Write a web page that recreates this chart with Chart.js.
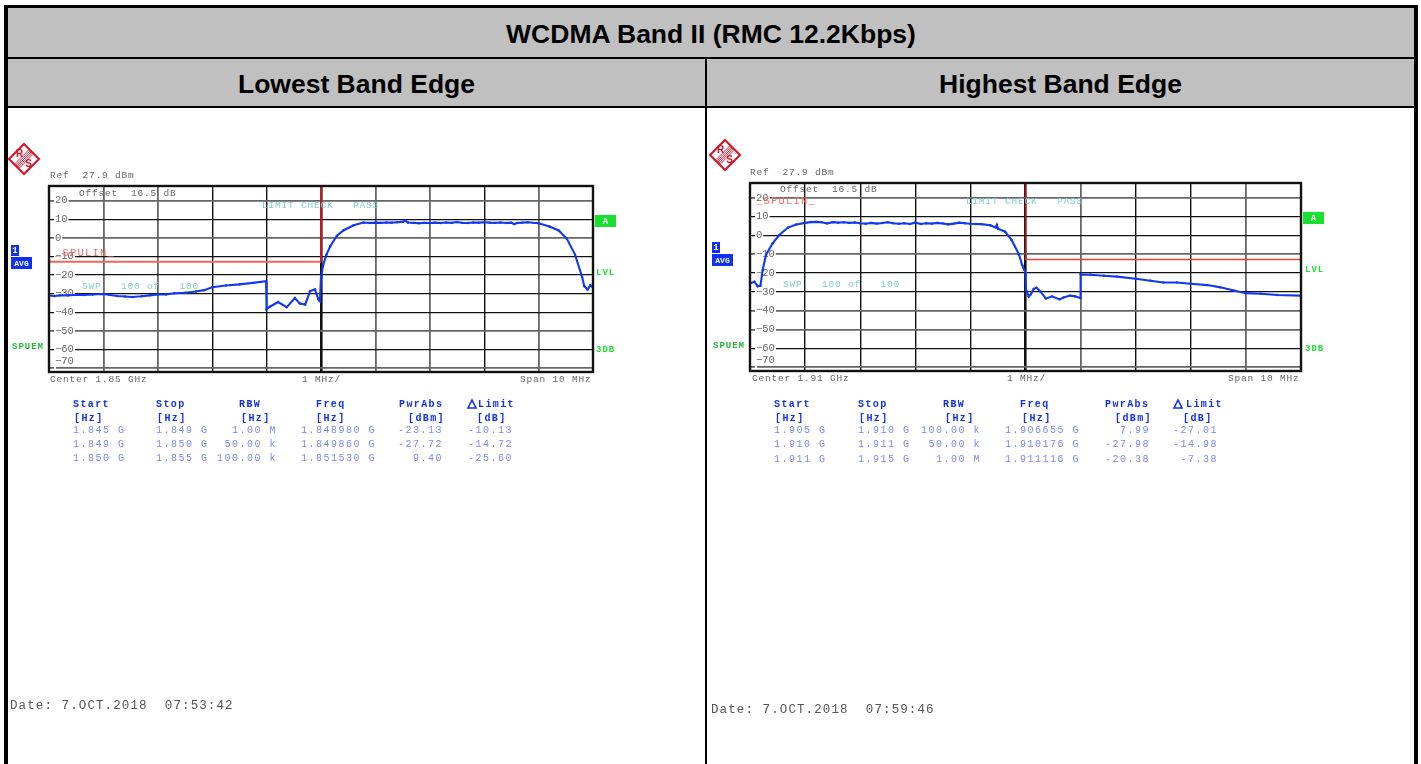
<!DOCTYPE html>
<html>
<head>
<meta charset="utf-8">
<title>WCDMA Band II (RMC 12.2Kbps)</title>
<script src="https://cdn.jsdelivr.net/npm/chart.js@4"></script>
<style>
  html, body { margin: 0; padding: 0; background: #fff; overflow: hidden; }
  body { width: 1421px; height: 764px; position: relative; font-family: "Liberation Sans", Arial, sans-serif; }
  .bar { position: absolute; background: #000; }
  .head { position: absolute; background: #c0c0c0; color: #000; font-weight: bold; text-align: center; font-size: 26.5px; }
  canvas { position: absolute; top: 108px; }
</style>
</head>
<body>
<div class="head" style="left:8px;top:8px;width:1406px;height:49px;line-height:52px">WCDMA Band II (RMC 12.2Kbps)</div>
<div class="head" style="left:8px;top:59px;width:697px;height:47px;line-height:50px">Lowest Band Edge</div>
<div class="head" style="left:707px;top:59px;width:707px;height:47px;line-height:50px">Highest Band Edge</div>
<div class="bar" style="left:4px;top:5px;width:1414px;height:3px"></div>
<div class="bar" style="left:4px;top:5px;width:4px;height:759px"></div>
<div class="bar" style="left:1414px;top:5px;width:4px;height:759px"></div>
<div class="bar" style="left:8px;top:57px;width:1406px;height:2px"></div>
<div class="bar" style="left:8px;top:106px;width:1406px;height:2px"></div>
<div class="bar" style="left:705px;top:59px;width:2px;height:705px"></div>
<canvas id="chartLow" style="left:8px" width="697" height="656"></canvas>
<canvas id="chartHigh" style="left:707px" width="707" height="656"></canvas>

<script>
const yTicks = [-70, -60, -50, -40, -30, -20, -10, 0, 10, 20];

const lowTicksX = [1845, 1846, 1847, 1848, 1849, 1850, 1851, 1852, 1853, 1854, 1855];
const highTicksX = [1905, 1906, 1907, 1908, 1909, 1910, 1911, 1912, 1913, 1914, 1915];

const lowFreq = [
  1845, 1845.1, 1845.2, 1845.35, 1845.5, 1845.65, 1845.8, 1846, 1846.1, 1846.25, 1846.4, 1846.53, 1846.7, 1846.85, 1847, 1847.15,
  1847.3, 1847.5, 1847.7, 1847.85, 1848, 1848.25, 1848.5, 1848.75, 1848.99, 1849, 1849.06, 1849.21, 1849.37, 1849.52, 1849.61, 1849.71,
  1849.8, 1849.89, 1849.95, 1849.98, 1850, 1850.01, 1850.04, 1850.1, 1850.17, 1850.29, 1850.41, 1850.6, 1850.78, 1850.9,
  1851, 1851.1, 1851.2, 1851.3, 1851.4, 1851.5, 1851.55, 1851.6, 1851.7, 1851.8, 1851.9,
  1852, 1852.1, 1852.2, 1852.3, 1852.4, 1852.5, 1852.6, 1852.7, 1852.8, 1852.9,
  1853, 1853.1, 1853.2, 1853.3, 1853.4, 1853.5, 1853.55, 1853.6, 1853.7, 1853.8, 1853.9,
  1854, 1854.2, 1854.37, 1854.52, 1854.67, 1854.8, 1854.84, 1854.9, 1854.95, 1855
];
const lowLevel = [
  -31, -31.2, -30.9, -30.9, -30.6, -30.7, -30.4, -30.2, -30.6, -31.2, -31.5, -31.8, -31.4, -30.9, -30.4, -30.4,
  -29.8, -29.5, -28.8, -28.1, -26.5, -25.6, -25, -24.2, -23.3, -38.3, -37, -34.5, -37.2, -32.3, -35.3, -35.8,
  -28.6, -27.7, -33, -34, -21, -20, -14.5, -9, -4.5, 1, 4, 6.8, 8.3, 8,
  8.2, 8.1, 8.3, 8.2, 8.4, 8.6, 9.2, 8.3, 8.1, 7.9, 8.1,
  8, 8.2, 8, 8.3, 8.1, 8.5, 8.1, 8, 8.3, 8.2,
  8.4, 8.2, 8.1, 8.3, 8, 8.2, 7.4, 8, 8.2, 8.4, 8.1,
  7.9, 6.1, 4, -0.5, -9, -21, -26, -27.8, -25.5, -26.5
];

const highFreq = [
  1905, 1905.08, 1905.14, 1905.19, 1905.23, 1905.29, 1905.41, 1905.53, 1905.69, 1905.84,
  1906, 1906.1, 1906.2, 1906.3, 1906.4, 1906.5, 1906.6, 1906.7, 1906.8, 1906.9,
  1907, 1907.1, 1907.2, 1907.3, 1907.4, 1907.5, 1907.6, 1907.7, 1907.8, 1907.9,
  1908, 1908.1, 1908.2, 1908.3, 1908.4, 1908.5, 1908.6, 1908.7, 1908.8, 1908.9,
  1909, 1909.1, 1909.2, 1909.36, 1909.46, 1909.48, 1909.5, 1909.63, 1909.75, 1909.88, 1909.94, 1910, 1910.01,
  1910.06, 1910.1, 1910.15, 1910.2, 1910.27, 1910.37, 1910.48, 1910.62, 1910.69, 1910.81, 1910.9, 1910.99, 1911,
  1911.18, 1911.42, 1911.66, 1912, 1912.27, 1912.5, 1912.75, 1913, 1913.3, 1913.54, 1913.78, 1914, 1914.27, 1914.57, 1915
];
const highLevel = [
  -25.5, -24.6, -27, -26.7, -18.4, -10.4, -4.2, 0.2, 4.2, 5.8,
  6.7, 7.1, 7.2, 7, 6.4, 7.1, 6.8, 7, 6.7, 6.9,
  6.5, 6.2, 6.7, 6.3, 6.6, 7, 6.5, 6.2, 6.5, 6.1,
  6.8, 6.1, 6.5, 6.3, 6.7, 6.4, 5.9, 6.3, 6.8, 6.5,
  6.2, 6.1, 6, 5.4, 4.2, 5.6, 3.6, 2, -2.5, -10, -15.8, -20, -29,
  -32.5, -31.2, -28.4, -27.8, -29.8, -33.6, -32.4, -34, -33, -32, -32.4, -33.3, -20.7,
  -20.9, -21.4, -21.9, -23, -24.1, -25, -25, -25.7, -26.4, -27.6, -29.3, -30.7, -31, -31.7, -32
];

const lowLimitFreq = [1845, 1850, 1850];
const lowLimitLevel = [-12.8, -12.8, 27.9];
const highLimitFreq = [1910, 1910, 1915];
const highLimitLevel = [27.9, -12.8, -12.8];

const tableHeads = ["Start", "Stop", "RBW", "Freq", "PwrAbs", "Limit"];
const tableUnits = ["[Hz]", "[Hz]", "[Hz]", "[Hz]", "[dBm]", "[dB]"];
const lowRows = [
  ["1.845 G", "1.849 G", "1.00 M", "1.848980 G", "-23.13", "-10.13"],
  ["1.849 G", "1.850 G", "50.00 k", "1.849860 G", "-27.72", "-14.72"],
  ["1.850 G", "1.855 G", "100.00 k", "1.851530 G", "9.40", "-25.60"]
];
const highRows = [
  ["1.905 G", "1.910 G", "100.00 k", "1.906655 G", "7.99", "-27.01"],
  ["1.910 G", "1.911 G", "50.00 k", "1.910176 G", "-27.98", "-14.98"],
  ["1.911 G", "1.915 G", "1.00 M", "1.911116 G", "-20.38", "-7.38"]
];

const MONO = '"Liberation Mono", monospace';
const TEXT_GREY = "#666";
const TEAL = "#7fcfc8";
const GREEN = "#18e02e";
const BLUE = "#1030f0";

function drawText(ctx, text, x, y, color, size, spacing, align, bold) {
  ctx.font = (bold ? "bold " : "") + size + "px " + MONO;
  ctx.letterSpacing = spacing + "px";
  ctx.fillStyle = color;
  ctx.textAlign = align || "left";
  ctx.textBaseline = "middle";
  ctx.fillText(text, x, y);
  ctx.letterSpacing = "0px";
}

function drawLogo(ctx, cx, cy) {
  const r = 15;
  ctx.save();
  ctx.translate(cx, cy);
  ctx.strokeStyle = "#d8102a";
  ctx.lineWidth = 2;
  ctx.beginPath();
  ctx.moveTo(0, -r); ctx.lineTo(r, 0); ctx.lineTo(0, r); ctx.lineTo(-r, 0); ctx.closePath();
  ctx.stroke();
  ctx.lineWidth = 0.9;
  for (let i = -2; i <= 2; i++) {
    ctx.beginPath();
    ctx.moveTo(-7 + i * 1.1, 7 + i * 1.1);
    ctx.lineTo(7 + i * 1.1, -7 + i * 1.1);
    ctx.stroke();
  }
  ctx.font = "bold 10px \"Liberation Sans\"";
  ctx.fillStyle = "#d8102a";
  ctx.textAlign = "center";
  ctx.textBaseline = "middle";
  ctx.fillText("R", -4.5, -5);
  ctx.fillText("S", 4.5, 5.5);
  ctx.restore();
}

function boxLabel(ctx, text, x, y, w, h, bg, color, size) {
  ctx.fillStyle = bg;
  ctx.fillRect(x, y, w, h);
  drawText(ctx, text, x + w / 2, y + h / 2 + 0.5, color, size, 0, "center", true);
}

function drawTable(ctx, p) {
  const c = p.cols;
  for (let i = 0; i < tableHeads.length; i++) {
    drawText(ctx, tableHeads[i], c.head[i], p.tableY[0], BLUE, 10, 1.4, "left", true);
    drawText(ctx, tableUnits[i], c.unit[i], p.tableY[1], BLUE, 10, 1.4, "left", true);
  }
  ctx.beginPath();
  ctx.moveTo(c.delta, p.tableY[0] + 4);
  ctx.lineTo(c.delta + 4, p.tableY[0] - 4);
  ctx.lineTo(c.delta + 8, p.tableY[0] + 4);
  ctx.closePath();
  ctx.lineWidth = 1.6;
  ctx.strokeStyle = BLUE;
  ctx.stroke();
  for (let r = 0; r < p.rows.length; r++) {
    const row = p.rows[r];
    const y = p.tableY[r + 2];
    for (let i = 0; i < row.length; i++) {
      const right = c.right[i] !== null;
      drawText(ctx, row[i], right ? c.right[i] : c.left[i], y, "#7a88f2", 10, 1.5, right ? "right" : "left");
    }
  }
}

const panelPlugin = {
  id: "panelText",
  afterDraw: function (chart, args, p) {
    const ctx = chart.ctx;
    const a = chart.chartArea;
    ctx.save();
    ctx.strokeStyle = "#111";
    ctx.lineWidth = 2.4;
    ctx.strokeRect(a.left, a.top, a.right - a.left, a.bottom - a.top);

    // the rest is placed in page coordinates
    ctx.translate(-p.originX, -108);
    drawLogo(ctx, p.logo[0], p.logo[1]);
    for (let i = 0; i < p.texts.length; i++) {
      const t = p.texts[i];
      drawText(ctx, t[0], t[1], t[2], t[3], t[4] || 9.5, t[5] === undefined ? 0.8 : t[5]);
    }
    boxLabel(ctx, "1", p.box1[0], p.box1[1], 8, 11, BLUE, "#fff", 9);
    boxLabel(ctx, "AVG", p.box1[0], p.box1[1] + 12, 21, 12, BLUE, "#fff", 8);
    boxLabel(ctx, "A", p.boxA[0], p.boxA[1], 21, 12, GREEN, "#fff", 9);
    drawText(ctx, "SPUEM", p.spuem[0], p.spuem[1], "#22b83a", 9, 1, "left", true);
    drawText(ctx, "LVL", p.lvl[0], p.lvl[1], GREEN, 9, 1, "left", true);
    drawText(ctx, "3DB", p.lvl[0], p.lvl[2], GREEN, 9, 1, "left", true);
    drawTable(ctx, p);
    ctx.restore();
  }
};

function makeChart(id, cfg) {
  return new Chart(document.getElementById(id), {
    type: "line",
    data: {
      datasets: [
        {
          data: cfg.limitFreq.map(function (f, i) { return { x: f, y: cfg.limitLevel[i] }; }),
          borderColor: cfg.limitColor,
          borderWidth: cfg.limitWidth,
          pointRadius: 0,
          tension: 0,
          segment: {
            // the upright part of the limit is a darker red in the reference
            borderColor: function (c) { return c.p0.parsed.x === c.p1.parsed.x ? "#c4161c" : cfg.limitColor; }
          }
        },
        {
          data: cfg.freq.map(function (f, i) { return { x: f, y: cfg.level[i] }; }),
          borderColor: "#1438ec",
          backgroundColor: "#1438ec",
          borderWidth: 2.1,
          pointRadius: 1.2,
          pointBorderWidth: 0,
          tension: 0
        }
      ]
    },
    options: {
      responsive: false,
      animation: false,
      layout: { padding: cfg.padding },
      plugins: { legend: { display: false }, tooltip: { enabled: false }, panelText: cfg.panel },
      scales: {
        x: {
          type: "linear",
          min: cfg.ticksX[0],
          max: cfg.ticksX[10],
          afterBuildTicks: function (axis) { axis.ticks = cfg.ticksX.map(function (v) { return { value: v }; }); },
          ticks: { display: false },
          border: { display: false },
          grid: {
            drawTicks: false,
            color: function (c) { return cfg.gridX[c.index] === "k" ? "#111" : "#666"; },
            lineWidth: function (c) { return c.index === 5 ? 2.6 : cfg.gridX[c.index] === "k" ? 1.4 : 1.8; }
          }
        },
        y: {
          min: -72.1,
          max: 27.9,
          afterBuildTicks: function (axis) { axis.ticks = yTicks.map(function (v) { return { value: v }; }); },
          afterFit: function (axis) { axis.width = 0; },
          ticks: {
            mirror: true,
            padding: 6,
            color: "#666",
            font: { family: MONO, size: 10.5 },
            showLabelBackdrop: true,
            backdropColor: "#fff",
            backdropPadding: { x: 1, y: 0 },
            callback: function (v) { return v === -70 ? "" : String(v).replace("-", "\u2212"); }
          },
          border: { display: false },
          grid: {
            drawTicks: false,
            color: function (c) { return cfg.gridY[c.index] === "k" ? "#111" : "#666"; },
            lineWidth: function (c) { return cfg.gridY[c.index] === "k" ? 1.3 : 1.8; }
          }
        }
      }
    },
    plugins: [panelPlugin]
  });
}

makeChart("chartLow", {
  freq: lowFreq, level: lowLevel,
  limitFreq: lowLimitFreq, limitLevel: lowLimitLevel, limitWidth: 2, limitColor: "#f4665c",
  ticksX: lowTicksX,
  gridX: ["k", "g", "g", "k", "k", "k", "g", "g", "k", "g", "k"],
  gridY: ["g", "k", "g", "k", "k", "k", "k", "g", "k", "g"],
  padding: { left: 41, top: 78, right: 112, bottom: 392 },
  panel: {
    originX: 8,
    logo: [24, 159],
    texts: [
      ["Ref  27.9 dBm", 50, 175, TEXT_GREY],
      ["Offset  16.5 dB", 79, 193, TEXT_GREY],
      ["LIMIT CHECK   PASS", 262, 205, TEAL],
      ["_SPULIN_", 55, 253, "#f26a60", 10.5, 1.2],
      ["SWP   100 of   100", 82, 286, TEAL],
      ["\u221270", 55, 361, "#666", 10.5, 0],
      ["Center 1.85 GHz", 50, 379, TEXT_GREY],
      ["1 MHz/", 302, 379, TEXT_GREY],
      ["Span 10 MHz", 520, 379, TEXT_GREY],
      ["Date: 7.OCT.2018  07:53:42", 10, 705.5, "#555", 12.5, 1.1]
    ],
    box1: [11, 245],
    boxA: [595, 215],
    spuem: [12, 347],
    lvl: [596, 273, 350],
    tableY: [404, 418, 430, 444, 458],
    cols: {
      head: [73, 156, 239, 316, 399, 478],
      unit: [74, 157, 241, 316, 408, 477],
      left: [73, 156, null, 301, null, null],
      right: [null, null, 277, null, 443, 513],
      delta: 468
    },
    rows: lowRows
  }
});

makeChart("chartHigh", {
  freq: highFreq, level: highLevel,
  limitFreq: highLimitFreq, limitLevel: highLimitLevel, limitWidth: 1.4, limitColor: "#e8403a",
  ticksX: highTicksX,
  gridX: ["k", "k", "k", "k", "k", "k", "g", "k", "k", "g", "k"],
  gridY: ["g", "k", "g", "g", "k", "k", "g", "k", "k", "g"],
  padding: { left: 43, top: 75, right: 113, bottom: 393 },
  panel: {
    originX: 707,
    logo: [725, 155],
    texts: [
      ["Ref  27.9 dBm", 750, 172, TEXT_GREY],
      ["Offset  16.5 dB", 780, 189.5, TEXT_GREY],
      ["_SPULIN_", 756, 201, "#f26a60", 10.5, 1.2],
      ["LIMIT CHECK   PASS", 966, 201, TEAL],
      ["SWP   100 of   100", 783, 284, TEAL],
      ["\u221270", 756, 360, "#666", 10.5, 0],
      ["Center 1.91 GHz", 752, 378, TEXT_GREY],
      ["1 MHz/", 1007, 378, TEXT_GREY],
      ["Span 10 MHz", 1228, 378, TEXT_GREY],
      ["Date: 7.OCT.2018  07:59:46", 711, 709.5, "#555", 12.5, 1.1]
    ],
    box1: [712, 242],
    boxA: [1303, 212],
    spuem: [713, 346],
    lvl: [1305, 270, 349],
    tableY: [404, 418, 430, 444, 459],
    cols: {
      head: [774, 858, 943, 1020, 1105, 1186],
      unit: [775, 859, 945, 1022, 1115, 1183],
      left: [774, 858, null, 1005, null, null],
      right: [null, null, 981, null, 1150, 1218],
      delta: 1174
    },
    rows: highRows
  }
});
</script>
</body>
</html>
